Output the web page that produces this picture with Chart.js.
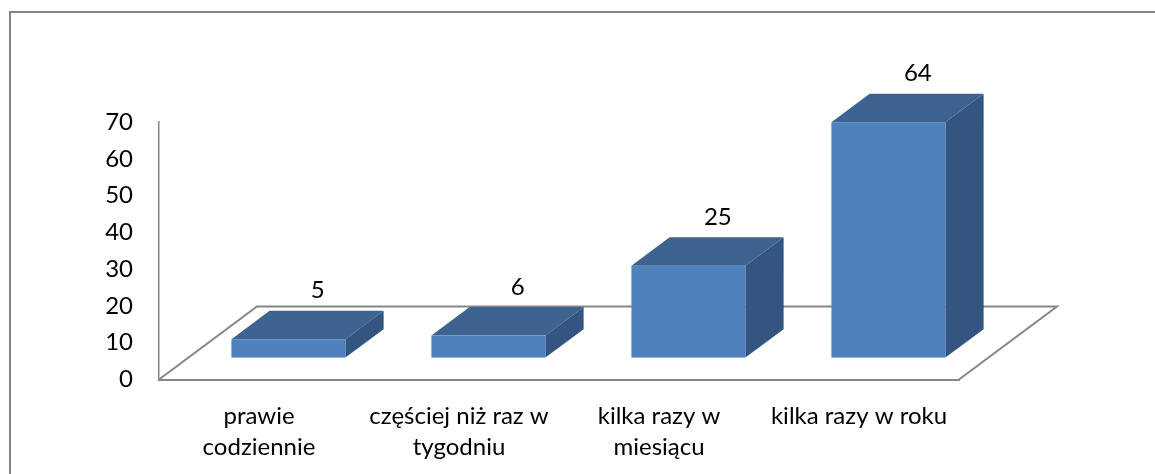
<!DOCTYPE html>
<html>
<head>
<meta charset="utf-8">
<script src="https://cdn.jsdelivr.net/npm/chart.js@4.4.0/dist/chart.umd.min.js"></script>
<style>
body { margin: 0; background: #fff; }
#wrap { width: 1155px; height: 474px; position: relative; }
</style>
</head>
<body>
<div id="wrap"><canvas id="myChart"></canvas></div>
<script>
// values
const categories = [['prawie', 'codziennie'], ['częściej niż raz w', 'tygodniu'], ['kilka razy w', 'miesiącu'], ['kilka razy w roku']];
const values = [5, 6, 25, 64];
const yMin = 0, yMax = 70, yStep = 10;

const fontFamily = 'Lato, "Open Sans", sans-serif';
const gray = '#868686';

// 3D floor depth (px); bars sit between 30% and 69% of it
const depthX = 98, depthY = -73;
const barFront = 0.3, barBack = 0.69;

const frame3d = {
    id: 'frame3d',
    // outer border of the chart object
    beforeDraw(chart) {
        const c = chart.ctx;
        c.save();
        c.strokeStyle = gray;
        c.lineWidth = 2;
        c.beginPath();
        c.moveTo(10, 480);
        c.lineTo(10, 12);
        c.lineTo(1160, 12);
        c.stroke();
        c.restore();
    },
    // floor parallelogram
    beforeDatasetsDraw(chart) {
        const a = chart.chartArea, c = chart.ctx;
        c.save();
        c.strokeStyle = gray;
        c.lineWidth = 2;
        c.beginPath();
        c.moveTo(a.left, a.bottom);
        c.lineTo(a.left + depthX, a.bottom + depthY);
        c.lineTo(a.right + depthX, a.bottom + depthY);
        c.lineTo(a.right, a.bottom);
        c.stroke();
        c.restore();
    },
    // 3D boxes built from the bar elements chart.js laid out
    afterDatasetsDraw(chart) {
        const c = chart.ctx;
        const meta = chart.getDatasetMeta(0);
        const sx = barFront * depthX, sy = barFront * depthY;
        const bx = (barBack - barFront) * depthX, by = (barBack - barFront) * depthY;
        c.save();
        meta.data.forEach((bar, i) => {
            const left = bar.x - bar.width / 2 + sx;
            const right = bar.x + bar.width / 2 + sx;
            const top = bar.y + sy;
            const bottom = bar.base + sy;
            // top face
            c.fillStyle = '#3D6390';
            c.beginPath();
            c.moveTo(left, top);
            c.lineTo(right, top);
            c.lineTo(right + bx, top + by);
            c.lineTo(left + bx, top + by);
            c.closePath();
            c.fill();
            // side face
            c.fillStyle = '#33557F';
            c.beginPath();
            c.moveTo(right, top);
            c.lineTo(right + bx, top + by);
            c.lineTo(right + bx, bottom + by);
            c.lineTo(right, bottom);
            c.closePath();
            c.fill();
            // front face
            c.fillStyle = '#4F81BD';
            c.fillRect(left, top, right - left, bottom - top);
            // value label
            c.fillStyle = '#000';
            c.font = '24px ' + fontFamily;
            c.textAlign = 'center';
            c.textBaseline = 'middle';
            c.fillText(values[i], bar.x + 2 * sx, top + by - 20);
        });
        c.restore();
    }
};

const ctx = document.getElementById('myChart');
const chart = new Chart(ctx, {
    type: 'bar',
    data: {
        labels: categories,
        datasets: [{
            data: values,
            backgroundColor: 'rgba(0,0,0,0)',
            barPercentage: 0.57,
            categoryPercentage: 1
        }]
    },
    options: {
        responsive: true,
        maintainAspectRatio: false,
        animation: false,
        layout: {
            padding: { left: 0, top: 122, right: 196, bottom: 0 }
        },
        plugins: {
            legend: { display: false },
            tooltip: { enabled: false },
            title: { display: false }
        },
        scales: {
            y: {
                min: yMin,
                max: yMax,
                ticks: {
                    stepSize: yStep,
                    color: '#000',
                    padding: 26,
                    font: { family: fontFamily, size: 24 }
                },
                grid: { display: false, drawTicks: false },
                border: { display: true, color: gray, width: 1.5 },
                afterFit(scale) { scale.width = 159; }
            },
            x: {
                ticks: {
                    color: '#000',
                    padding: 21,
                    maxRotation: 0,
                    autoSkip: false,
                    font: { family: fontFamily, size: 24, lineHeight: 1.3 }
                },
                grid: { display: false, drawTicks: false },
                border: { display: true, color: gray, width: 2 },
                afterFit(scale) { scale.height = 94.5; }
            }
        }
    },
    plugins: [frame3d]
});
</script>
</body>
</html>
